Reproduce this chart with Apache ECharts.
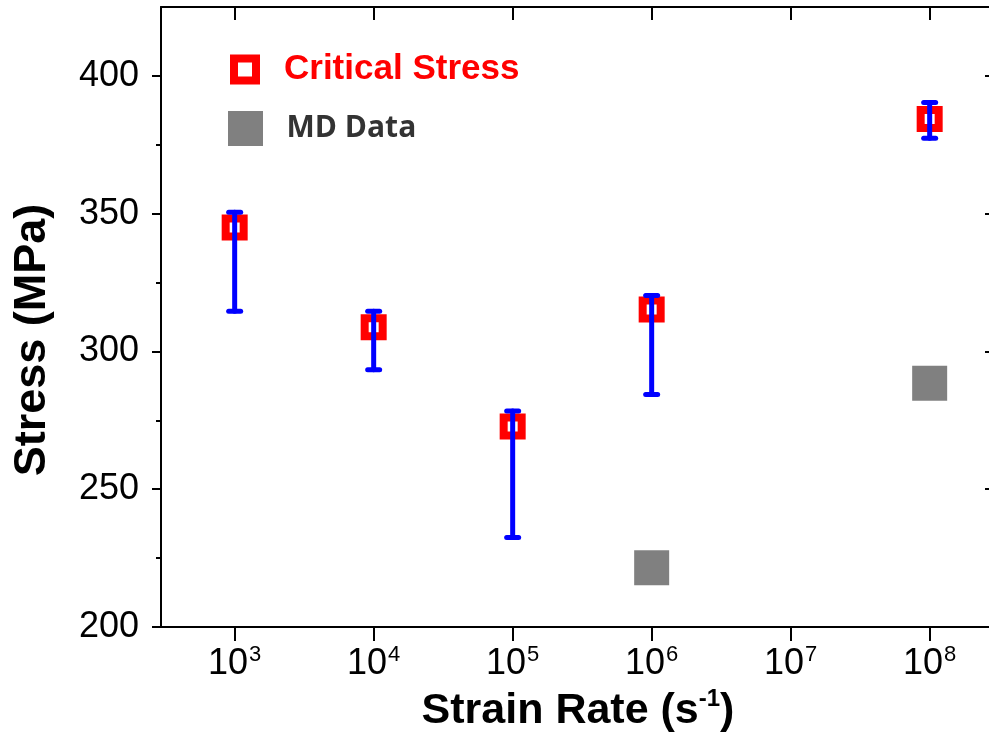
<!DOCTYPE html>
<html>
<head>
<meta charset="utf-8">
<script src="https://cdn.jsdelivr.net/npm/echarts@6/dist/echarts.min.js"></script>
<style>
  html, body { margin: 0; padding: 0; background: #fff; }
  #chart { width: 989px; height: 734px; }
</style>
</head>
<body>
<div id="chart"></div>
<script>
// strain rate as log10 exponent
const rateExp = [3, 4, 5, 6, 8];
const criticalStress = [345, 308.8, 272.8, 315.2, 384.4];
const errLow = [314.6, 293.4, 232.5, 284.4, 377.4];
const errHigh = [350.5, 314.6, 278.4, 320.3, 390.3];

const mdExp = [6, 8];
const mdStress = [221.5, 288.5];

const xTickExp = [3, 4, 5, 6, 7, 8];
const yTicks = [200, 250, 300, 350, 400];
const yMinorTicks = [225, 275, 325, 375];

const chart = echarts.init(document.getElementById('chart'));

const FONT = 'Liberation Sans, Arial, sans-serif';
const axisLine = { show: true, lineStyle: { color: '#000', width: 2 } };

const option = {
  animation: false,
  grid: { left: 161, top: 7, width: 834, height: 620, containLabel: false, outerBoundsMode: 'none' },
  legend: [
    {
      left: 225, top: 47,
      itemWidth: 22, itemHeight: 22,
      data: [{
        name: 'Critical Stress',
        icon: 'rect',
        itemStyle: { color: '#fff', borderColor: '#ff0000', borderWidth: 8 }
      }],
      textStyle: {
        color: '#ff0000', fontSize: 35, fontWeight: 'bold',
        fontFamily: FONT,
        padding: [0, 0, 0, 23]
      }
    },
    {
      left: 223, top: 106,
      itemWidth: 22, itemHeight: 22,
      data: [{
        name: 'MD Data',
        icon: 'rect',
        itemStyle: { color: '#808080', borderColor: '#808080', borderWidth: 13 }
      }],
      textStyle: {
        color: '#333', fontSize: 30, fontWeight: 'bold',
        fontFamily: 'Open Sans, sans-serif',
        padding: [0, 0, 0, 25]
      }
    }
  ],
  xAxis: [
    {
      type: 'value',
      min: 2.47,
      max: 8.47,
      position: 'bottom',
      name: '{t|Strain Rate (s}{sup|-1}{t|)}',
      nameLocation: 'middle',
      nameGap: 52,
      nameTextStyle: {
        rich: {
          t: { fontSize: 43, fontWeight: 'bold', fontFamily: FONT, color: '#000', lineHeight: 46, verticalAlign: 'bottom' },
          sup: { fontSize: 24, fontWeight: 'bold', fontFamily: FONT, color: '#000', lineHeight: 46, verticalAlign: 'top' }
        }
      },
      axisLine: axisLine,
      axisTick: { show: true, inside: false, length: 14, customValues: xTickExp, lineStyle: { color: '#000', width: 2 } },
      axisLabel: {
        customValues: xTickExp,
        margin: 17,
        formatter: (v) => '{b|10}{s|' + v + '}',
        rich: {
          b: { fontSize: 36, color: '#000', fontFamily: FONT, lineHeight: 38, verticalAlign: 'bottom' },
          s: { fontSize: 22, color: '#000', fontFamily: FONT, lineHeight: 38, verticalAlign: 'top', padding: [0, 0, 0, 1] }
        }
      },
      splitLine: { show: false }
    },
    {
      type: 'value',
      min: 2.47,
      max: 8.47,
      position: 'top',
      axisLine: axisLine,
      axisTick: { show: true, inside: true, length: 13, customValues: xTickExp, lineStyle: { color: '#000', width: 2 } },
      axisLabel: { show: false },
      splitLine: { show: false }
    }
  ],
  yAxis: [
    {
      type: 'value',
      min: 200,
      max: 425,
      position: 'left',
      name: 'Stress (MPa)',
      nameLocation: 'middle',
      nameGap: 106,
      nameTextStyle: {
        color: '#000', fontSize: 45, fontWeight: 'bold',
        fontFamily: FONT,
        padding: [0, 46, 0, 0]
      },
      axisLine: axisLine,
      axisTick: { show: true, inside: false, length: 9, customValues: yTicks, lineStyle: { color: '#000', width: 2 } },
      axisLabel: {
        customValues: yTicks,
        margin: 22,
        color: '#000', fontSize: 36,
        fontFamily: FONT
      },
      splitLine: { show: false }
    },
    {
      type: 'value',
      min: 200,
      max: 425,
      position: 'left',
      axisLine: { show: false },
      axisTick: { show: true, inside: false, length: 5, customValues: yMinorTicks, lineStyle: { color: '#000', width: 2 } },
      axisLabel: { show: false },
      splitLine: { show: false }
    },
    {
      type: 'value',
      min: 200,
      max: 425,
      position: 'right',
      axisLine: axisLine,
      axisTick: { show: true, inside: true, length: 10, customValues: yTicks, lineStyle: { color: '#000', width: 2 } },
      axisLabel: { show: false },
      splitLine: { show: false }
    }
  ],
  series: [
    {
      name: 'MD Data',
      type: 'scatter',
      symbol: 'rect',
      symbolSize: 35,
      itemStyle: { color: '#808080', opacity: 1 },
      data: mdExp.map((x, i) => [x, mdStress[i]]),
      z: 2
    },
    {
      name: 'Critical Stress',
      type: 'scatter',
      symbol: 'rect',
      symbolSize: 18,
      itemStyle: { color: '#fff', borderColor: '#ff0000', borderWidth: 8, opacity: 1 },
      data: rateExp.map((x, i) => [x, criticalStress[i]]),
      z: 3
    },
    {
      name: 'error',
      type: 'custom',
      z: 4,
      data: rateExp.map((x, i) => [x, errLow[i], errHigh[i]]),
      renderItem: (params, api) => {
        const lo = api.coord([api.value(0), api.value(1)]);
        const hi = api.coord([api.value(0), api.value(2)]);
        const hw = 6;
        const style = { stroke: '#0000ff', lineWidth: 5, lineCap: 'round' };
        return {
          type: 'group',
          children: [
            { type: 'line', shape: { x1: hi[0], y1: hi[1], x2: lo[0], y2: lo[1] }, style: style },
            { type: 'line', shape: { x1: hi[0] - hw, y1: hi[1], x2: hi[0] + hw, y2: hi[1] }, style: style },
            { type: 'line', shape: { x1: lo[0] - hw, y1: lo[1], x2: lo[0] + hw, y2: lo[1] }, style: style }
          ]
        };
      }
    }
  ]
};

chart.setOption(option);
</script>
</body>
</html>
